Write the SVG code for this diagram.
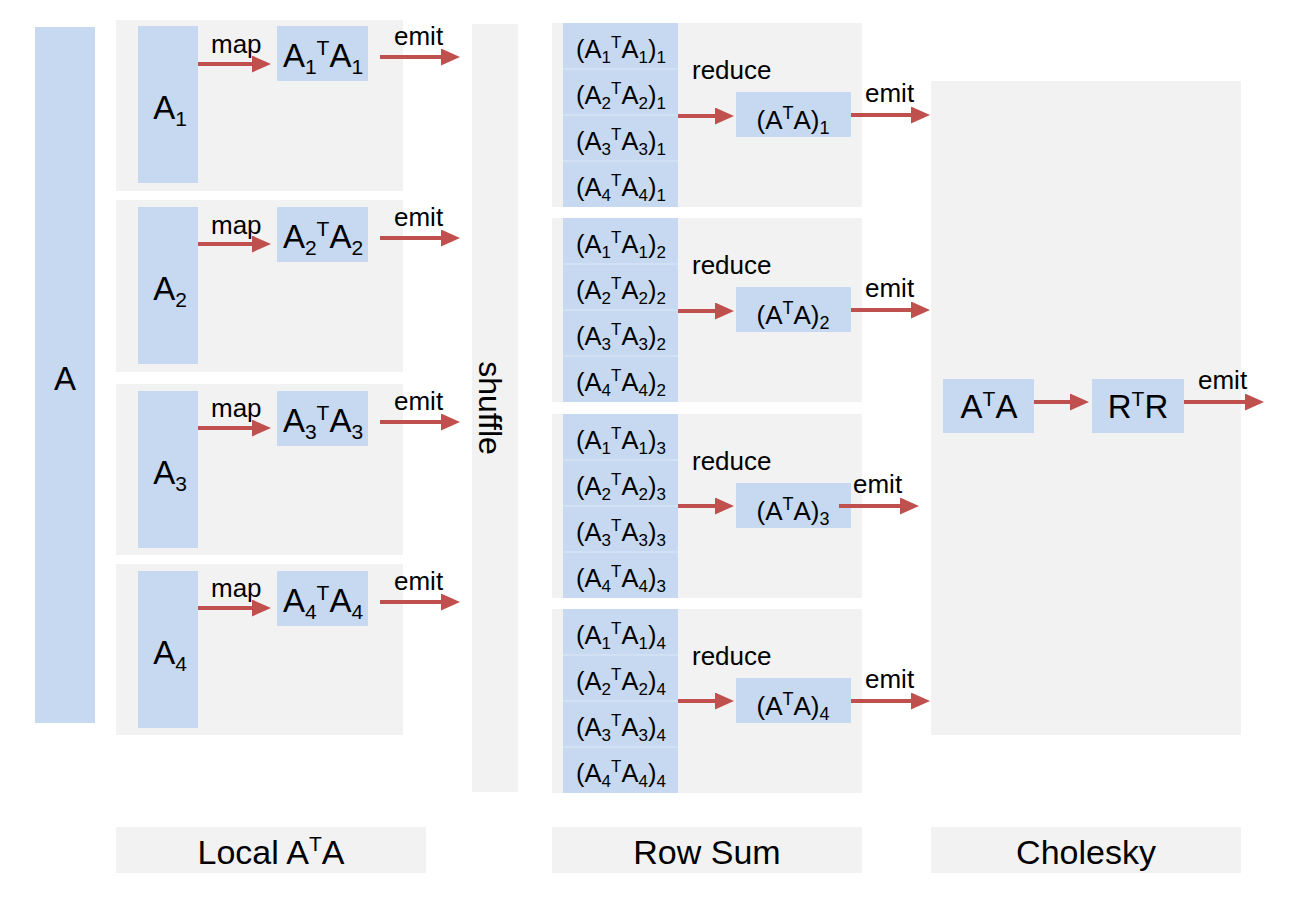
<svg xmlns="http://www.w3.org/2000/svg" width="1300" height="902" viewBox="0 0 1300 902">
<style>
.bg{fill:#ffffff}
.panel{fill:#f2f2f2}
.box{fill:#c6d9f1}
.div{stroke:#dce7f6;stroke-width:1}
.arr{stroke:#c0504d;stroke-width:4;fill:none;marker-end:url(#ah)}
text{font-family:"Liberation Sans",Arial,sans-serif;fill:#000}
.big{font-size:33px;text-anchor:middle}
.foot{font-size:34px;text-anchor:middle}
.lbl{font-size:26px}
.row{font-size:25.5px;text-anchor:middle}
.mid{font-size:26px;text-anchor:middle}
.sh{font-size:32px;text-anchor:middle}
.s1{font-size:21px}
.s2{font-size:17px}
.s3{font-size:18px}
</style>
<defs>
<marker id="ah" markerUnits="userSpaceOnUse" markerWidth="20" markerHeight="18" refX="1" refY="8.5" orient="auto">
<path d="M0,0 L19,8.5 L0,17 Z" fill="#c0504d"/>
</marker>
</defs>
<rect class="bg" x="0" y="0" width="1300" height="902"/>

<g id="panels">
<rect class="panel" x="116" y="20" width="287" height="171"/>
<rect class="panel" x="116" y="200" width="287" height="172"/>
<rect class="panel" x="116" y="384" width="287" height="171"/>
<rect class="panel" x="116" y="564" width="287" height="171"/>
<rect class="panel" x="552" y="23" width="310" height="184"/>
<rect class="panel" x="552" y="218" width="310" height="184"/>
<rect class="panel" x="552" y="414" width="310" height="184"/>
<rect class="panel" x="552" y="609" width="310" height="184"/>
<rect class="panel" x="931" y="81" width="310" height="654"/>
</g>

<g id="A">
<rect class="box" x="35" y="27" width="60" height="696"/>
<text class="big" x="65" y="390">A</text>
</g>

<g id="A1">
<rect class="box" x="138" y="26" width="60" height="157"/>
<text class="big" x="170" y="119">A<tspan class="s1" dy="7">1</tspan></text>
</g>
<g id="A1TA1">
<rect class="box" x="277" y="26" width="91" height="55"/>
<text class="big" x="323" y="67">A<tspan class="s1" dy="7">1</tspan><tspan class="s1" dy="-19">T</tspan><tspan dy="12">A</tspan><tspan class="s1" dy="7">1</tspan></text>
</g>
<g id="A2">
<rect class="box" x="138" y="207" width="60" height="157"/>
<text class="big" x="170" y="300">A<tspan class="s1" dy="7">2</tspan></text>
</g>
<g id="A2TA2">
<rect class="box" x="277" y="207" width="91" height="55"/>
<text class="big" x="323" y="248">A<tspan class="s1" dy="7">2</tspan><tspan class="s1" dy="-19">T</tspan><tspan dy="12">A</tspan><tspan class="s1" dy="7">2</tspan></text>
</g>
<g id="A3">
<rect class="box" x="138" y="391" width="60" height="157"/>
<text class="big" x="170" y="484">A<tspan class="s1" dy="7">3</tspan></text>
</g>
<g id="A3TA3">
<rect class="box" x="277" y="391" width="91" height="55"/>
<text class="big" x="323" y="432">A<tspan class="s1" dy="7">3</tspan><tspan class="s1" dy="-19">T</tspan><tspan dy="12">A</tspan><tspan class="s1" dy="7">3</tspan></text>
</g>
<g id="A4">
<rect class="box" x="138" y="571" width="60" height="157"/>
<text class="big" x="170" y="664">A<tspan class="s1" dy="7">4</tspan></text>
</g>
<g id="A4TA4">
<rect class="box" x="277" y="571" width="91" height="55"/>
<text class="big" x="323" y="612">A<tspan class="s1" dy="7">4</tspan><tspan class="s1" dy="-19">T</tspan><tspan dy="12">A</tspan><tspan class="s1" dy="7">4</tspan></text>
</g>

<g id="shuffle">
<rect class="panel" x="472" y="24" width="46" height="768"/>
<text class="sh" transform="translate(488,408) rotate(90)" x="0" y="9">shuffle</text>
</g>

<g id="rows1">
<rect class="box" x="563" y="23" width="115" height="184"/>
<line class="div" x1="563" y1="69" x2="678" y2="69"/><line class="div" x1="563" y1="115" x2="678" y2="115"/><line class="div" x1="563" y1="161" x2="678" y2="161"/>
<text class="row" x="621" y="58">(A<tspan class="s2" dy="5">1</tspan><tspan class="s2" dy="-15">T</tspan><tspan dy="10">A</tspan><tspan class="s2" dy="5">1</tspan><tspan dy="-5">)</tspan><tspan class="s2" dy="5">1</tspan></text>
<text class="row" x="621" y="104">(A<tspan class="s2" dy="5">2</tspan><tspan class="s2" dy="-15">T</tspan><tspan dy="10">A</tspan><tspan class="s2" dy="5">2</tspan><tspan dy="-5">)</tspan><tspan class="s2" dy="5">1</tspan></text>
<text class="row" x="621" y="150">(A<tspan class="s2" dy="5">3</tspan><tspan class="s2" dy="-15">T</tspan><tspan dy="10">A</tspan><tspan class="s2" dy="5">3</tspan><tspan dy="-5">)</tspan><tspan class="s2" dy="5">1</tspan></text>
<text class="row" x="621" y="196">(A<tspan class="s2" dy="5">4</tspan><tspan class="s2" dy="-15">T</tspan><tspan dy="10">A</tspan><tspan class="s2" dy="5">4</tspan><tspan dy="-5">)</tspan><tspan class="s2" dy="5">1</tspan></text>
</g>
<g id="rows2">
<rect class="box" x="563" y="218" width="115" height="184"/>
<line class="div" x1="563" y1="264" x2="678" y2="264"/><line class="div" x1="563" y1="310" x2="678" y2="310"/><line class="div" x1="563" y1="356" x2="678" y2="356"/>
<text class="row" x="621" y="253">(A<tspan class="s2" dy="5">1</tspan><tspan class="s2" dy="-15">T</tspan><tspan dy="10">A</tspan><tspan class="s2" dy="5">1</tspan><tspan dy="-5">)</tspan><tspan class="s2" dy="5">2</tspan></text>
<text class="row" x="621" y="299">(A<tspan class="s2" dy="5">2</tspan><tspan class="s2" dy="-15">T</tspan><tspan dy="10">A</tspan><tspan class="s2" dy="5">2</tspan><tspan dy="-5">)</tspan><tspan class="s2" dy="5">2</tspan></text>
<text class="row" x="621" y="345">(A<tspan class="s2" dy="5">3</tspan><tspan class="s2" dy="-15">T</tspan><tspan dy="10">A</tspan><tspan class="s2" dy="5">3</tspan><tspan dy="-5">)</tspan><tspan class="s2" dy="5">2</tspan></text>
<text class="row" x="621" y="391">(A<tspan class="s2" dy="5">4</tspan><tspan class="s2" dy="-15">T</tspan><tspan dy="10">A</tspan><tspan class="s2" dy="5">4</tspan><tspan dy="-5">)</tspan><tspan class="s2" dy="5">2</tspan></text>
</g>
<g id="rows3">
<rect class="box" x="563" y="414" width="115" height="184"/>
<line class="div" x1="563" y1="460" x2="678" y2="460"/><line class="div" x1="563" y1="506" x2="678" y2="506"/><line class="div" x1="563" y1="552" x2="678" y2="552"/>
<text class="row" x="621" y="449">(A<tspan class="s2" dy="5">1</tspan><tspan class="s2" dy="-15">T</tspan><tspan dy="10">A</tspan><tspan class="s2" dy="5">1</tspan><tspan dy="-5">)</tspan><tspan class="s2" dy="5">3</tspan></text>
<text class="row" x="621" y="495">(A<tspan class="s2" dy="5">2</tspan><tspan class="s2" dy="-15">T</tspan><tspan dy="10">A</tspan><tspan class="s2" dy="5">2</tspan><tspan dy="-5">)</tspan><tspan class="s2" dy="5">3</tspan></text>
<text class="row" x="621" y="541">(A<tspan class="s2" dy="5">3</tspan><tspan class="s2" dy="-15">T</tspan><tspan dy="10">A</tspan><tspan class="s2" dy="5">3</tspan><tspan dy="-5">)</tspan><tspan class="s2" dy="5">3</tspan></text>
<text class="row" x="621" y="587">(A<tspan class="s2" dy="5">4</tspan><tspan class="s2" dy="-15">T</tspan><tspan dy="10">A</tspan><tspan class="s2" dy="5">4</tspan><tspan dy="-5">)</tspan><tspan class="s2" dy="5">3</tspan></text>
</g>
<g id="rows4">
<rect class="box" x="563" y="609" width="115" height="184"/>
<line class="div" x1="563" y1="655" x2="678" y2="655"/><line class="div" x1="563" y1="701" x2="678" y2="701"/><line class="div" x1="563" y1="747" x2="678" y2="747"/>
<text class="row" x="621" y="644">(A<tspan class="s2" dy="5">1</tspan><tspan class="s2" dy="-15">T</tspan><tspan dy="10">A</tspan><tspan class="s2" dy="5">1</tspan><tspan dy="-5">)</tspan><tspan class="s2" dy="5">4</tspan></text>
<text class="row" x="621" y="690">(A<tspan class="s2" dy="5">2</tspan><tspan class="s2" dy="-15">T</tspan><tspan dy="10">A</tspan><tspan class="s2" dy="5">2</tspan><tspan dy="-5">)</tspan><tspan class="s2" dy="5">4</tspan></text>
<text class="row" x="621" y="736">(A<tspan class="s2" dy="5">3</tspan><tspan class="s2" dy="-15">T</tspan><tspan dy="10">A</tspan><tspan class="s2" dy="5">3</tspan><tspan dy="-5">)</tspan><tspan class="s2" dy="5">4</tspan></text>
<text class="row" x="621" y="782">(A<tspan class="s2" dy="5">4</tspan><tspan class="s2" dy="-15">T</tspan><tspan dy="10">A</tspan><tspan class="s2" dy="5">4</tspan><tspan dy="-5">)</tspan><tspan class="s2" dy="5">4</tspan></text>
</g>

<g id="ATA1">
<rect class="box" x="736" y="92" width="115" height="45"/>
<text class="mid" x="793" y="129">(A<tspan class="s3" dy="-10">T</tspan><tspan dy="10">A)</tspan><tspan class="s3" dy="5">1</tspan></text>
</g>
<g id="ATA2">
<rect class="box" x="736" y="287" width="115" height="45"/>
<text class="mid" x="793" y="324">(A<tspan class="s3" dy="-10">T</tspan><tspan dy="10">A)</tspan><tspan class="s3" dy="5">2</tspan></text>
</g>
<g id="ATA3">
<rect class="box" x="736" y="483" width="115" height="45"/>
<text class="mid" x="793" y="520">(A<tspan class="s3" dy="-10">T</tspan><tspan dy="10">A)</tspan><tspan class="s3" dy="5">3</tspan></text>
</g>
<g id="ATA4">
<rect class="box" x="736" y="678" width="115" height="45"/>
<text class="mid" x="793" y="715">(A<tspan class="s3" dy="-10">T</tspan><tspan dy="10">A)</tspan><tspan class="s3" dy="5">4</tspan></text>
</g>

<g id="ATA">
<rect class="box" x="943" y="379" width="91" height="54"/>
<text class="big" x="989" y="418">A<tspan class="s1" dy="-12">T</tspan><tspan dy="12">A</tspan></text>
</g>
<g id="RTR">
<rect class="box" x="1092" y="379" width="92" height="54"/>
<text class="big" x="1138" y="418">R<tspan class="s1" dy="-12">T</tspan><tspan dy="12">R</tspan></text>
</g>

<g id="connectors">
<line class="arr" x1="198" y1="64" x2="253" y2="64"/>
<line class="arr" x1="198" y1="244" x2="253" y2="244"/>
<line class="arr" x1="198" y1="428" x2="253" y2="428"/>
<line class="arr" x1="198" y1="608" x2="253" y2="608"/>
<line class="arr" x1="380" y1="57" x2="442" y2="57"/>
<line class="arr" x1="380" y1="238" x2="442" y2="238"/>
<line class="arr" x1="380" y1="422" x2="442" y2="422"/>
<line class="arr" x1="380" y1="602" x2="442" y2="602"/>
<line class="arr" x1="678" y1="116" x2="716" y2="116"/>
<line class="arr" x1="678" y1="311" x2="716" y2="311"/>
<line class="arr" x1="678" y1="506" x2="716" y2="506"/>
<line class="arr" x1="678" y1="701" x2="716" y2="701"/>
<line class="arr" x1="851" y1="115" x2="912" y2="115"/>
<line class="arr" x1="851" y1="310" x2="912" y2="310"/>
<line class="arr" x1="839" y1="506" x2="901" y2="506"/>
<line class="arr" x1="851" y1="701" x2="912" y2="701"/>
<line class="arr" x1="1034" y1="402" x2="1071" y2="402"/>
<line class="arr" x1="1184" y1="402" x2="1246" y2="402"/>
</g>

<g id="labels">
<text class="lbl" x="211" y="53">map</text>
<text class="lbl" x="211" y="234">map</text>
<text class="lbl" x="211" y="417">map</text>
<text class="lbl" x="211" y="597">map</text>
<text class="lbl" x="394" y="45">emit</text>
<text class="lbl" x="394" y="226">emit</text>
<text class="lbl" x="394" y="410">emit</text>
<text class="lbl" x="394" y="590">emit</text>
<text class="lbl" x="692" y="79">reduce</text>
<text class="lbl" x="692" y="274">reduce</text>
<text class="lbl" x="692" y="470">reduce</text>
<text class="lbl" x="692" y="665">reduce</text>
<text class="lbl" x="865" y="102">emit</text>
<text class="lbl" x="865" y="297">emit</text>
<text class="lbl" x="853" y="493">emit</text>
<text class="lbl" x="865" y="688">emit</text>
<text class="lbl" x="1198" y="389">emit</text>
</g>

<g id="footer-local">
<rect class="panel" x="116" y="827" width="310" height="46"/>
<text class="foot" x="271" y="864">Local A<tspan class="s1" dy="-13">T</tspan><tspan dy="13">A</tspan></text>
</g>
<g id="footer-rowsum">
<rect class="panel" x="552" y="827" width="310" height="46"/>
<text class="foot" x="707" y="864">Row Sum</text>
</g>
<g id="footer-cholesky">
<rect class="panel" x="931" y="827" width="310" height="46"/>
<text class="foot" x="1086" y="864">Cholesky</text>
</g>
</svg>
